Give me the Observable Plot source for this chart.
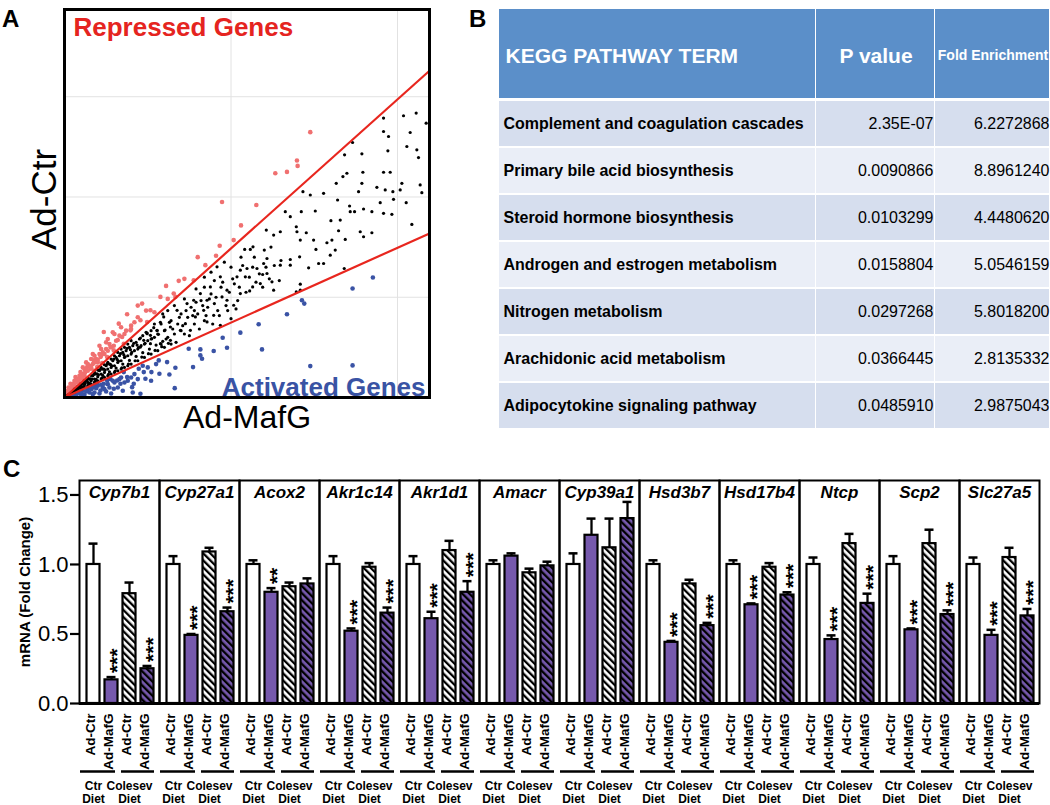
<!DOCTYPE html>
<html><head><meta charset="utf-8">
<script src="https://cdn.jsdelivr.net/npm/d3@7"></script>
<script src="https://cdn.jsdelivr.net/npm/@observablehq/plot@0.6"></script>
<style>
body{margin:0;background:#fff;}
#wrap{position:relative;width:1050px;height:805px;overflow:hidden;font-family:"Liberation Sans",Arial,sans-serif;}
.panel{position:absolute;}
.lab{position:absolute;font-weight:bold;font-size:24px;line-height:24px;color:#000;}
</style></head><body>
<div id="wrap">
<svg width="0" height="0" style="position:absolute">
 <defs>
  <pattern id="hatchW" patternUnits="userSpaceOnUse" width="5" height="5" patternTransform="rotate(-45)">
   <rect width="5" height="5" fill="#ffffff"/><rect width="2.3" height="5" fill="#000"/>
  </pattern>
  <pattern id="hatchP" patternUnits="userSpaceOnUse" width="5" height="5" patternTransform="rotate(-45)">
   <rect width="5" height="5" fill="#7659ad"/><rect width="2.3" height="5" fill="#000"/>
  </pattern>
 </defs>
</svg>
<div class="lab" style="left:2px;top:7px">A</div>
<div class="lab" style="left:469px;top:7px">B</div>
<div class="lab" style="left:3px;top:457px">C</div>
<div class="panel" id="pA" style="left:0;top:0"></div>
<div class="panel" id="pBh" style="left:499px;top:9px"></div>
<div class="panel" id="pBb" style="left:499px;top:98px"></div>
<div class="panel" id="pC" style="left:0;top:470px"></div>
</div>
<script>
// ---------- Panel A data (expression, arbitrary units) ----------
const repressedGenes = [
[7.38,7.94],[6.98,7.09],[7.0,6.93],[6.33,6.71],[6.68,6.75],[5.76,5.76],[4.73,5.85],[5.3,5.15],[5.08,4.71],[4.66,4.54],
[4.0,4.2],[4.23,3.96],[4.55,4.24],[3.43,3.49],[3.05,3.34],[3.88,3.51],[3.28,3.11],[3.33,3.01],[2.33,2.81],[1.88,2.49],
[1.63,2.21],[1.18,1.96],[2.28,2.31],[1.98,2.01],[2.58,2.61],[2.88,3.01],[1.78,1.61],[1.38,1.51],[1.08,1.21],[0.88,1.11],
[0.68,0.91],[0.48,0.76],[0.33,0.61],[0.18,0.41],[0.58,0.71],[0.98,0.91],[1.28,1.21],[1.48,1.41],[0.43,0.51],[0.28,0.31],
[0.78,0.86],[1.73,1.81],[2.0,2.05],[2.48,2.26],[0.23,0.21],[0.08,0.11],[0.53,0.56],[0.88,0.81],[1.13,1.03],[1.48,1.55],
[0.15,0.25],[0.25,0.4],[0.35,0.5],[0.45,0.65],[0.6,0.85],[0.75,0.95],[0.85,1.0],[0.95,1.15],[1.05,1.3],[1.15,1.35],
[1.25,1.45],[1.35,1.6],[1.55,1.7],[1.65,1.85],[1.85,2.0],[0.12,0.3],[0.3,0.5],[0.5,0.7],[0.7,1.0],[0.9,1.25],
[1.1,1.45],[0.4,0.55],[0.55,0.9],[0.8,1.15],[1.0,1.05],[0.62,0.75],[0.05,0.12],[0.1,0.2],[2.1,2.25],[1.5,1.9],[1.3,1.75],
[0.2,0.3],[0.4,0.45],[0.6,0.65],[0.8,0.9],[1.0,1.12],[1.2,1.3],[1.4,1.5],[1.6,1.72],[1.8,1.9],[2.0,2.15],
[2.2,2.4],[0.3,0.38],[0.5,0.6],[0.7,0.8],[0.9,1.05],[1.1,1.25],[1.3,1.4],[0.65,1.05],[0.85,1.3],[1.05,1.55],
[1.25,1.65],[1.45,1.95],[1.7,2.1],[2.45,2.6],[2.7,2.55],[3.1,2.95],[2.2,2.75],[3.6,3.55]
];
const activatedGenes = [
[9.26,3.59],[8.65,3.26],[7.38,0.94],[8.65,0.96],[7.2,2.81],[7.13,2.91],[6.68,2.49],[5.83,2.19],[5.93,1.44],[5.28,1.94],
[4.88,1.49],[4.75,1.79],[4.48,1.39],[4.08,1.44],[4.13,1.16],[4.08,1.26],[3.86,0.91],[3.73,1.46],[3.33,0.89],[3.31,0.28],
[3.15,0.69],[3.08,1.06],[2.85,0.71],[2.83,1.11],[2.61,0.76],[2.43,0.56],[2.38,0.76],[2.23,0.86],[2.08,0.41],[2.03,0.31],
[1.88,0.61],[1.78,0.76],[1.58,0.51],[1.48,0.26],[1.38,0.55],[1.18,0.41],[1.08,0.21],[0.88,0.36],[0.68,0.21],[0.48,0.11],
[0.98,0.4],[1.28,0.51],[1.68,0.41],[2.28,0.11],[0.3,0.08],[0.4,0.15],[0.55,0.2],[0.7,0.28],[0.85,0.3],[1.0,0.35],
[1.15,0.3],[1.3,0.4],[1.5,0.45],[1.7,0.6],[0.2,0.05],[0.6,0.08],[0.9,0.15],[1.25,0.18],[1.6,0.3],[1.9,0.5],
[2.1,0.7],[2.5,0.9],[0.45,0.12],[0.75,0.15],
[0.35,0.1],[0.5,0.16],[0.65,0.18],[0.8,0.25],[0.95,0.28],[1.1,0.38],[1.2,0.25],[1.35,0.3],[1.45,0.5],[1.65,0.55],
[1.8,0.45],[2.0,0.6],[2.2,0.55],[2.35,0.95],[2.6,0.5],[2.75,1.0],[0.25,0.06],[0.55,0.05],[0.85,0.1],[1.05,0.12],
[1.4,0.12],[1.75,0.2],[2.05,0.15]
];
const unchangedGenes = [
[9.58,8.36],[10.18,8.43],[10.56,8.51],[10.86,8.21],[9.58,7.96],[9.73,7.81],[10.38,7.93],[8.65,7.63],[10.28,7.51],[10.58,7.41],
[9.71,7.38],[8.41,7.26],[8.93,7.29],[10.63,7.18],[8.96,6.74],[9.58,6.74],[9.78,6.74],[8.36,6.61],[8.48,6.71],[8.93,6.41],
[8.16,6.41],[9.38,6.29],[9.63,6.21],[9.86,6.16],[10.08,6.21],[10.13,6.41],[10.68,6.36],[10.73,6.13],[8.83,6.16],[7.78,6.11],
[7.38,6.06],[7.16,6.16],[8.2,5.91],[9.88,5.93],[10.26,5.83],[9.48,5.83],[8.56,5.73],[8.98,5.64],[9.23,5.56],[9.58,5.51],
[9.83,5.48],[8.58,5.56],[8.71,5.56],[7.53,5.58],[7.11,5.56],[6.78,5.41],[6.63,5.56],[8.28,5.31],[8.0,5.29],[10.43,5.18],
[6.06,5.01],[6.48,4.96],[6.96,5.11],[6.98,4.96],[7.26,4.93],[8.23,4.99],[8.03,4.71],[8.43,4.73],[8.88,4.96],[8.98,4.81],
[9.23,4.93],[7.88,4.63],[7.48,4.71],[7.08,4.71],[6.28,4.86],[5.66,4.51],[6.0,4.41],[6.08,4.16],[5.41,4.43],[5.58,4.43],
[6.48,3.96],[6.78,3.96],[6.78,4.13],[7.06,4.21],[7.33,3.88],[7.55,4.43],[7.63,4.01],[7.78,4.01],[7.98,4.26],[8.13,4.41],
[8.4,3.86],[7.08,3.39],[7.08,3.21],[6.96,3.16],[6.28,3.21],[5.95,3.68],[5.98,4.01],[5.65,3.31],[5.43,3.61],[5.28,3.11],
[5.18,3.61],[4.88,3.21],[5.08,2.76],[4.73,3.01],[4.5,2.81],[4.38,3.31],[4.68,3.61],[4.58,3.91],[5.48,3.86],[5.78,3.86],
[6.08,3.71],[6.23,3.46],[5.88,3.41],[5.56,3.19],[5.28,3.81],[4.88,2.91],[5.0,2.36],[4.18,2.61],[3.88,2.91],[3.68,2.81],
[4.08,3.11],[4.28,2.91],[3.93,2.41],[3.63,2.21],[3.38,2.61],[3.18,2.11],[3.48,2.01],[2.98,2.41],[2.78,2.01],[2.88,1.61],
[2.58,1.61],[2.48,1.91],[2.28,1.51],[3.18,1.71],[4.48,2.46],[4.68,2.16],[3.78,2.01],[4.28,2.26],
[0.2,0.13],[0.3,0.2],[0.4,0.25],[0.5,0.32],[0.6,0.38],[0.7,0.45],[0.8,0.5],[0.9,0.55],[1.0,0.62],[1.1,0.7],
[1.2,0.75],[1.3,0.85],[1.4,0.9],[1.5,0.95],[1.6,1.05],[1.7,1.1],[1.8,1.2],[1.9,1.25],[2.0,1.3],[2.1,1.4],
[2.2,1.45],[2.3,1.55],[2.4,1.6],[2.5,1.7],[2.6,1.75],[2.7,1.8],[0.25,0.18],[0.35,0.25],[0.45,0.3],[0.55,0.4],
[0.65,0.5],[0.75,0.55],[0.85,0.65],[0.95,0.7],[1.05,0.8],[1.15,0.85],[1.25,0.95],[1.35,1.0],[1.45,1.1],[1.55,1.2],
[1.65,1.25],[1.75,1.35],[1.85,1.4],[1.95,1.5],[2.05,1.55],[2.15,1.65],[2.25,1.75],[2.35,1.85],[2.45,1.95],[0.5,0.25],
[0.6,0.3],[0.7,0.35],[0.8,0.4],[0.9,0.45],[1.0,0.5],[1.1,0.55],[1.2,0.6],[1.3,0.65],[1.4,0.7],[1.5,0.75],
[1.6,0.8],[1.7,0.85],[1.8,0.9],[1.9,0.95],[2.0,1.0],[2.2,1.1],[2.4,1.2],[2.6,1.3],[2.8,1.4],[0.3,0.25],
[0.4,0.33],[0.5,0.42],[0.6,0.5],[0.7,0.58],[0.8,0.66],[0.9,0.75],[1.0,0.82],[1.1,0.9],[1.2,0.98],[1.3,1.05],
[1.4,1.15],[1.5,1.25],[1.6,1.35],[1.7,1.45],[1.8,1.5],[1.9,1.6],[2.0,1.7],[0.15,0.1],[0.1,0.07],[0.05,0.04],
[2.9,1.6],[3.0,2.0],[3.1,1.8],[3.2,2.3],[3.3,1.9],[3.4,2.2],[3.5,2.5],[3.6,1.9],[3.7,2.4],[3.8,2.7],
[3.9,2.2],[4.0,2.5],[4.1,2.9],[4.2,2.3],[4.3,2.7],[4.4,3.1],[4.6,2.6],[4.7,3.3],[4.9,2.6],[5.1,3.4],
[5.2,2.9],[2.9,2.2],[3.0,1.5],[2.7,2.2],[2.6,2.0],[2.8,1.9],[3.2,1.6],[3.5,2.0],[3.9,2.6],[4.2,3.3],
[4.5,3.5],[5.0,3.9],[5.3,4.2],[5.7,4.2],[6.2,4.5],[6.5,4.1],
[0.15,0.09],[0.35,0.2],[0.55,0.31],[0.75,0.43],[0.95,0.54],[1.15,0.66],[1.35,0.77],[1.55,0.88],[1.75,1.0],[1.95,1.11],
[2.15,1.23],[2.35,1.34],[2.55,1.45],[2.75,1.57],[2.95,1.68],[0.22,0.15],[0.42,0.28],[0.62,0.42],[0.82,0.55],[1.02,0.68],
[1.22,0.82],[1.42,0.95],[1.62,1.09],[1.82,1.22],[2.02,1.35],[2.22,1.49],[2.42,1.62],[2.62,1.76],[2.82,1.89],[3.02,2.02],
[0.28,0.22],[0.48,0.37],[0.68,0.53],[0.88,0.69],[1.08,0.84],[1.28,1.0],[1.48,1.15],[1.68,1.31],[1.88,1.47],[2.08,1.62],
[2.28,1.78],[2.48,1.93],[2.68,2.09],[2.88,2.25],[0.32,0.17],[0.52,0.27],[0.72,0.37],[0.92,0.48],[1.12,0.58],[1.32,0.69],
[1.52,0.79],[1.72,0.89],[1.92,1.0],[2.12,1.1],[2.32,1.21],[2.52,1.31],[2.72,1.41],[2.92,1.52],[3.12,1.62],[0.18,0.13],
[0.38,0.27],[0.58,0.42],[0.78,0.56],[0.98,0.71],[1.18,0.85],[1.38,0.99],[1.58,1.14],[1.78,1.28],[1.98,1.43],[2.18,1.57],
[2.38,1.71],[2.58,1.86],[2.78,2.0],
[3.05,1.75],[3.15,2.25],[3.25,2.05],[3.35,1.65],[3.45,2.4],[3.55,2.15],[3.65,2.6],[3.75,1.85],[3.85,2.45],[3.95,2.85],
[4.05,2.05],[4.15,2.75],[4.25,2.45],[4.35,2.95],[4.45,2.2],[4.55,3.0],[4.65,2.45],[4.75,3.45],[4.85,2.75],[4.95,3.15],
[5.05,3.55],[5.15,2.65],[5.25,3.3],[5.35,3.95],[5.45,3.15],[5.55,3.6],[5.65,3.9],[5.75,3.45],[5.85,3.7],[5.95,3.3],
[6.05,3.9],[6.15,3.55],[6.3,3.95],[6.45,3.5],[3.3,2.75],[3.6,2.95],[3.95,3.25],[4.2,3.6],[4.4,3.75],[4.8,4.05],
[2.95,2.5],[3.1,2.6]
];
const foldLines = [{name: "upper", slope: 0.892}, {name: "lower", slope: 0.448}];
const scatterGridX = [5, 10];
const scatterGridY = [3, 6, 9];

// ---------- Panel B data ----------
const tableHeaders = ["KEGG PATHWAY TERM", "P value", "Fold Enrichment"];
const keggTerms = ["Complement and coagulation cascades","Primary bile acid biosynthesis","Steroid hormone biosynthesis",
  "Androgen and estrogen metabolism","Nitrogen metabolism","Arachidonic acid metabolism","Adipocytokine signaling pathway"];
const pValues = ["2.35E-07","0.0090866","0.0103299","0.0158804","0.0297268","0.0366445","0.0485910"];
const foldEnrichment = ["6.2272868","8.8961240","4.4480620","5.0546159","5.8018200","2.8135332","2.9875043"];

// ---------- Panel C data ----------
const genes = ["Cyp7b1","Cyp27a1","Acox2","Akr1c14","Akr1d1","Amacr","Cyp39a1","Hsd3b7","Hsd17b4","Ntcp","Scp2","Slc27a5"];
const groups = ["Ad-Ctr|Ctr Diet","Ad-MafG|Ctr Diet","Ad-Ctr|Colesev Diet","Ad-MafG|Colesev Diet"];
const treatmentLabels = ["Ad-Ctr","Ad-MafG","Ad-Ctr","Ad-MafG"];
const dietLabels = ["Ctr Diet","Colesev Diet"];
const meanFold = [
 [1.00,0.17,0.79,0.25],[1.00,0.49,1.09,0.66],[1.00,0.80,0.84,0.86],[1.00,0.52,0.98,0.65],
 [1.00,0.61,1.10,0.80],[1.00,1.06,0.94,0.99],[1.00,1.21,1.12,1.33],[1.00,0.44,0.86,0.56],
 [1.00,0.71,0.98,0.78],[1.00,0.46,1.15,0.72],[1.00,0.53,1.15,0.64],[1.00,0.49,1.05,0.63]];
const semFold = [
 [0.15,0.02,0.08,0.02],[0.06,0.01,0.03,0.03],[0.03,0.03,0.03,0.04],[0.06,0.02,0.03,0.04],
 [0.06,0.05,0.07,0.08],[0.03,0.02,0.03,0.03],[0.08,0.12,0.21,0.12],[0.03,0.01,0.03,0.02],
 [0.03,0.01,0.03,0.02],[0.05,0.03,0.07,0.07],[0.06,0.01,0.10,0.03],[0.05,0.04,0.07,0.05]];
const significance = [
 ["","***","","***"],["","***","","***"],["","**","",""],["","***","","***"],
 ["","***","","***"],["","","",""],["","","",""],["","***","","***"],
 ["","***","","***"],["","***","","***"],["","***","","***"],["","***","","***"]];
const yTicks = [0, 0.5, 1.0, 1.5];

// ================= Panel A =================
const FONT = "Liberation Sans, Arial, sans-serif";
const xMaxA = 10.96;
const pt = d => ({x: d[0], y: d[1]});
const plotA = Plot.plot({
  width: 440, height: 445, marginLeft: 64, marginTop: 9, marginRight: 11, marginBottom: 48,
  x: {domain: [0, xMaxA], axis: null},
  y: {domain: [0, 11.61], axis: null},
  style: {fontFamily: FONT, background: "transparent", overflow: "visible"},
  marks: [
    Plot.gridX(scatterGridX, {stroke: "#e2e2e2", strokeOpacity: 1, strokeWidth: 1}),
    Plot.gridY(scatterGridY, {stroke: "#e2e2e2", strokeOpacity: 1, strokeWidth: 1}),
    Plot.dot(repressedGenes.map(pt), {x: "x", y: "y", r: 2.3, fill: "#f07070", stroke: null}),
    Plot.dot(activatedGenes.map(pt), {x: "x", y: "y", r: 2.3, fill: "#3a53a5", stroke: null}),
    Plot.dot(unchangedGenes.map(pt), {x: "x", y: "y", r: 1.6, fill: "#000", stroke: null}),
    Plot.link(foldLines, {x1: () => 0, y1: () => 0, x2: () => xMaxA, y2: d => d.slope * xMaxA, stroke: "#e8261e", strokeWidth: 2.2}),
    Plot.frame({stroke: "#000", strokeWidth: 3}),
    Plot.text(["Repressed Genes"], {frameAnchor: "top-left", textAnchor: "start", lineAnchor: "top", dx: 9, dy: 8, fill: "#e52420", fontSize: 26, fontWeight: "bold"}),
    Plot.text(["Activated Genes"], {frameAnchor: "bottom-right", textAnchor: "end", lineAnchor: "bottom", dx: -4, dy: -2, fill: "#3953a4", fontSize: 26, fontWeight: "bold"}),
    Plot.text(["Ad-Ctr"], {frameAnchor: "left", rotate: -90, textAnchor: "middle", lineAnchor: "middle", dx: -20, dy: -4, fontSize: 35, fill: "#000"}),
    Plot.text(["Ad-MafG"], {frameAnchor: "bottom", textAnchor: "middle", lineAnchor: "top", dy: 8, fontSize: 32, fill: "#000"})
  ]
});
document.getElementById("pA").append(plotA);

// ================= Panel B =================
const colWidths = [317, 119, 115];
const colEdges = colWidths.reduce((a, w) => (a.push(a[a.length - 1] + w), a), [0]);
const tableW = colEdges[colEdges.length - 1];
const headerCells = tableHeaders.map((h, j) => ({h, j}));
const plotBh = Plot.plot({
  width: tableW, height: 89, margin: 0,
  x: {domain: [0, tableW], axis: null},
  y: {domain: [0, 1], axis: null},
  style: {fontFamily: FONT, background: "transparent"},
  marks: [
    Plot.rect(headerCells, {x1: d => colEdges[d.j], x2: d => colEdges[d.j + 1], y1: () => 0, y2: () => 1, fill: "#5b8fc9", insetRight: 1}),
    Plot.text([headerCells[0]], {x: () => 6, y: () => 0.5, text: "h", textAnchor: "start", dy: 2, fill: "#fff", fontWeight: "bold", fontSize: 21}),
    Plot.text([headerCells[1]], {x: d => (colEdges[1] + colEdges[2]) / 2, y: () => 0.5, text: "h", textAnchor: "middle", dy: 2, fill: "#fff", fontWeight: "bold", fontSize: 21}),
    Plot.text([headerCells[2]], {x: d => (colEdges[2] + colEdges[3]) / 2, y: () => 0.5, text: "h", textAnchor: "middle", dy: 2, fill: "#fff", fontWeight: "bold", fontSize: 14})
  ]
});
document.getElementById("pBh").append(plotBh);

const bodyCells = keggTerms.flatMap((t, i) => [0, 1, 2].map(j => ({term: t, i, j})));
const bodyRows = keggTerms.map((t, i) => ({term: t, p: pValues[i], fe: foldEnrichment[i]}));
const plotBb = Plot.plot({
  width: tableW, height: keggTerms.length * 47.7, margin: 0,
  x: {domain: [0, tableW], axis: null},
  y: {domain: keggTerms, axis: null, padding: 0},
  style: {fontFamily: FONT, background: "transparent"},
  marks: [
    Plot.barX(bodyCells, {x1: d => colEdges[d.j], x2: d => colEdges[d.j + 1], y: "term",
      fill: d => d.i % 2 === 0 ? "#d6deee" : "#eaeef7", insetTop: 1, insetBottom: 1, insetRight: 1}),
    Plot.text(bodyRows, {x: () => 4, y: "term", text: "term", textAnchor: "start", fontWeight: "bold", fontSize: 16, fill: "#000"}),
    Plot.text(bodyRows, {x: () => colEdges[2] - 2, y: "term", text: "p", textAnchor: "end", fontSize: 16, fill: "#000"}),
    Plot.text(bodyRows, {x: () => colEdges[3] - 1, y: "term", text: "fe", textAnchor: "end", fontSize: 16, fill: "#000"})
  ]
});
document.getElementById("pBb").append(plotBb);

// ================= Panel C =================
const rows = genes.flatMap((g, i) => groups.map((grp, j) => ({
  gene: g, group: grp, j, mean: meanFold[i][j], sem: semFold[i][j], star: significance[i][j], label: treatmentLabels[j]
})));
const barFills = ["#ffffff", "#7659ad", "url(#hatchW)", "url(#hatchP)"];
const underlineInsets = [[-4, 0], [0, 5], [1, 0], [0, 2]];
const dietRows = genes.flatMap(g => dietLabels.map((lab, k) => ({gene: g, group: groups[k * 2], text: lab.replace(" ", "\n")})));

const plotC = Plot.plot({
  width: 1050, height: 335, marginTop: 10, marginLeft: 76, marginRight: 9, marginBottom: 102,
  fx: {domain: genes, padding: 0, axis: null},
  x: {domain: groups, padding: 0, insetLeft: 5, insetRight: 3, axis: null},
  y: {domain: [0, 1.604], axis: null},
  style: {fontFamily: FONT, background: "transparent", overflow: "visible"},
  marks: [
    Plot.ruleX(rows, {fx: "gene", x: "group", y1: "mean", y2: d => d.mean + d.sem, stroke: "#000", strokeWidth: 2.3}),
    Plot.tickY(rows, {fx: "gene", x: "group", y: d => d.mean + d.sem, stroke: "#000", strokeWidth: 2.5, insetLeft: 4.5, insetRight: 4.5}),
    ...groups.map((grp, j) => Plot.barY(rows.filter(d => d.j === j), {
      fx: "gene", x: "group", y: "mean", fill: barFills[j], stroke: "#000", strokeWidth: 2.2, insetLeft: 2.5, insetRight: 2.5})),
    Plot.text(rows.filter(d => d.star), {fx: "gene", x: "group", y: d => d.mean + d.sem, text: "star", rotate: -90,
      textAnchor: "start", lineAnchor: "middle", dy: -4, dx: 6, fontSize: 21, fontWeight: "bold", fill: "#000"}),
    Plot.frame({stroke: "#000", strokeWidth: 2}),
    Plot.ruleY([0], {stroke: "#000", strokeWidth: 3}),
    Plot.axisY({ticks: yTicks, tickFormat: d => d.toFixed(1), fontSize: 22, tickSize: 9, tickPadding: 2, strokeWidth: 2.2, label: null, anchor: "left", fill: "#000"}),
    Plot.text(genes, {fx: d => d, text: d => d, frameAnchor: "top", lineAnchor: "top", dy: 5, fontSize: 17, fontWeight: "bold", fontStyle: "italic", fill: "#000"}),
    Plot.text([genes[0]], {fx: d => d, text: () => "mRNA (Fold Change)", frameAnchor: "left", rotate: -90, textAnchor: "middle", lineAnchor: "middle", dx: -54, fontSize: 15, fontWeight: "bold", fill: "#000"}),
    Plot.text(rows, {fx: "gene", x: "group", y: () => 0, text: "label", rotate: -90, textAnchor: "end", lineAnchor: "middle", dy: 10, dx: -3, fontSize: 13.5, fontWeight: "bold", fill: "#000"}),
    ...groups.map((grp, j) => Plot.tickY(rows.filter(d => d.j === j), {
      fx: "gene", x: "group", y: () => 0, dy: 68, stroke: "#000", strokeWidth: 2.5,
      insetLeft: underlineInsets[j][0], insetRight: underlineInsets[j][1]})),
    Plot.text(dietRows, {fx: "gene", x: "group", y: () => 0, text: "text", dy: 77, lineAnchor: "top", lineHeight: 1.08, fontSize: 12, fontWeight: "bold", fill: "#000"})
  ]
});
document.getElementById("pC").append(plotC);
</script>
</body></html>
